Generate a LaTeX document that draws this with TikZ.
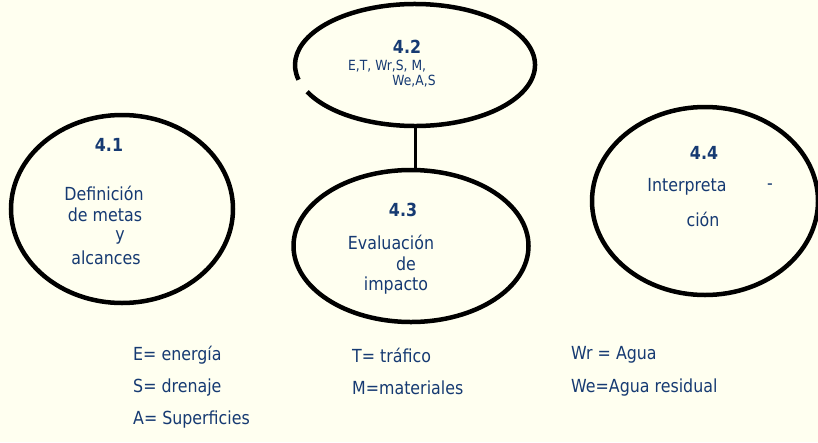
\documentclass[tikz,border=0pt]{standalone}
\usepackage{fontspec}
\setmainfont{DejaVu Sans}[FakeStretch=0.88]
\usetikzlibrary{positioning}
\usetikzlibrary{shapes.geometric}
\definecolor{txtblue}{RGB}{22,58,114}
\definecolor{paper}{RGB}{255,255,240}

\begin{document}
\begin{tikzpicture}[x=1pt,y=1pt,
  every node/.style={text=txtblue,inner sep=0pt,font=\fontsize{18}{20}\selectfont},
  phase/.style={ellipse,draw=black,line width=4.5pt},
  num/.style={font=\fontsize{18}{20}\selectfont\bfseries},
  small/.style={font=\fontsize{14}{16}\selectfont},
  key/.style={anchor=west}]
\fill[paper] (0,0) rectangle (818,-442);
\useasboundingbox (0,0) rectangle (818,-442);
% stages
\node[phase,minimum width=222pt,minimum height=188pt] (c41) at (122,-209) {};
\node[ellipse,minimum width=240pt,minimum height=122pt] (c42) at (415,-65) {};
\draw[line width=4.5pt] ([shift={(206:120 and 61)}]c42.center)
  arc[start angle=206,end angle=554,x radius=120,y radius=61];
\node[phase,minimum width=235pt,minimum height=152pt] (c43) at (411,-246) {};
\node[phase,minimum width=226pt,minimum height=188pt] (c44) at (705,-201) {};
\draw[line width=3pt] (c42.south) -- (c42.south |- c43.north);
% 4.1
\node[num] (n41) at (109,-145) {4.1};
\node (t41a) at (104,-193) {Definición};
\node (t41b) at (105,-215) {de metas};
\node (t41c) at (120,-237) {y};
\node (t41d) at (106,-258) {alcances};
% 4.2
\node[num] (n42) at (407,-47) {4.2};
\node[small,anchor=west] (t42a) at (348,-66) {E,T, Wr,S, M,};
\node[small] (t42b) at (414,-81) {We,A,S};
% 4.3
\node[num] (n43) at (403,-210) {4.3};
\node (t43a) at (391,-242) {Evaluación};
\node (t43b) at (406,-264) {de};
\node (t43c) at (396,-286) {impacto};
% 4.4
\node[num] (n44) at (704,-153) {4.4};
\node (t44a) at (687,-187) {Interpreta};
\node (t44b) at (770,-187) {-};
\node (t44c) at (703,-219) {ción};
% legend
\node[key] (kE) at (133,-355) {E= energía};
\node[key] (kS) at (133,-388) {S= drenaje};
\node[key] (kA) at (133,-420) {A= Superficies};
\node[key] (kT) at (352,-355) {T= tráfico};
\node[key] (kM) at (352,-388) {M=materiales};
\node[key] (kWr) at (571,-355) {Wr = Agua};
\node[key] (kWe) at (571,-388) {We=Agua residual};
\end{tikzpicture}
\end{document}
